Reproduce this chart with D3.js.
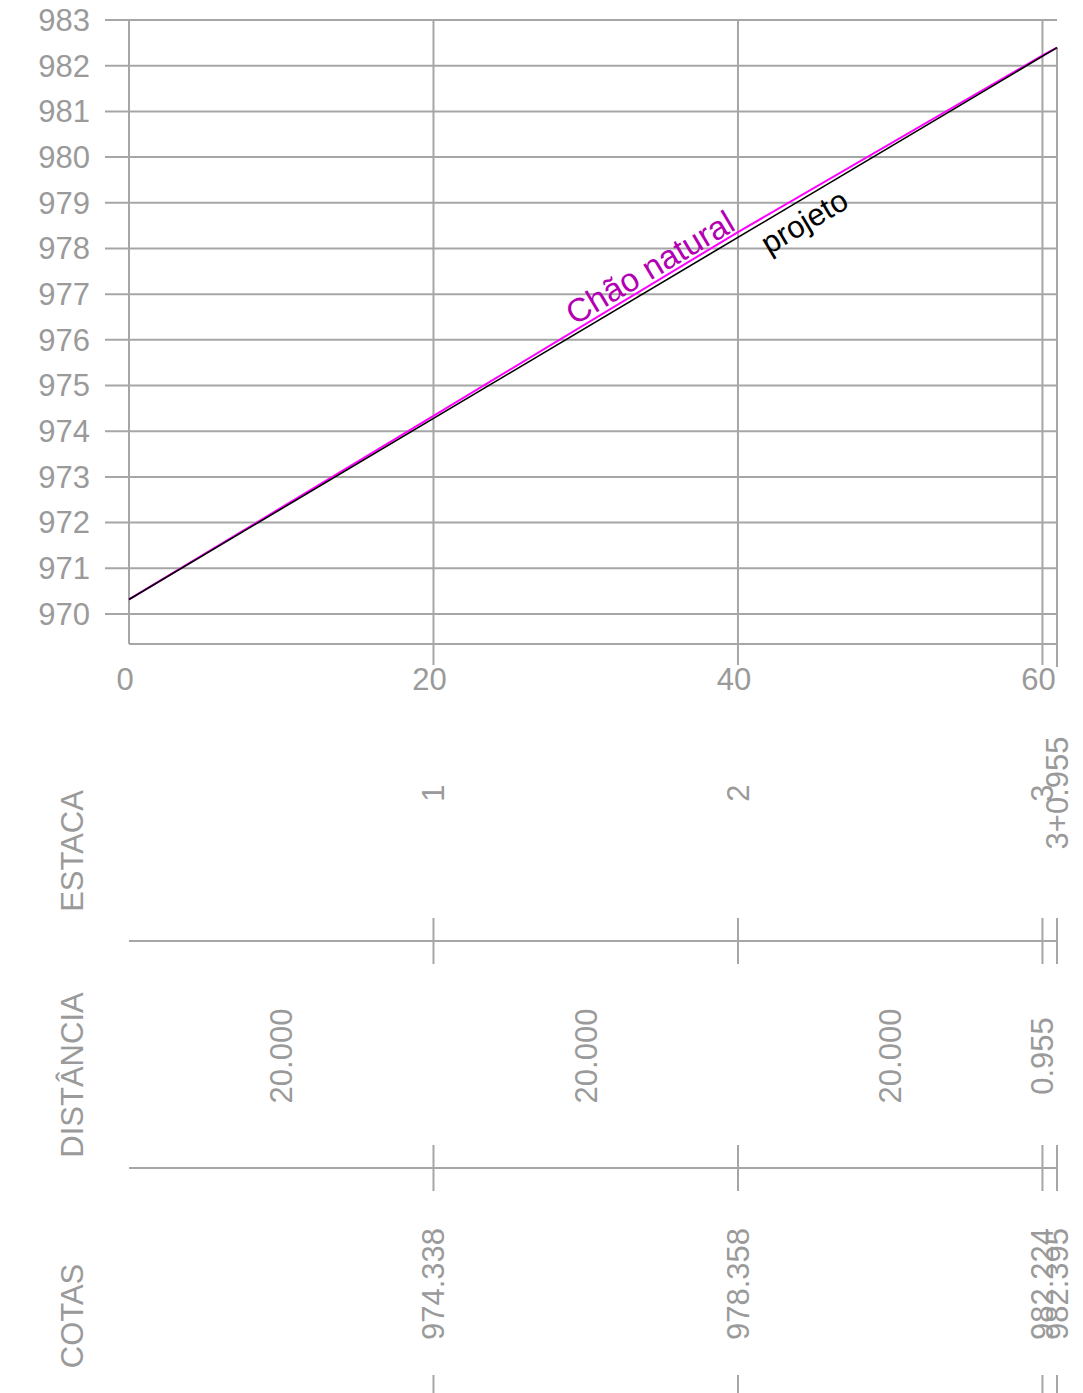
<!DOCTYPE html>
<html>
<head>
<meta charset="utf-8">
<script src="https://cdn.jsdelivr.net/npm/d3@7"></script>
<style>
  html, body { margin: 0; padding: 0; background: #fff; }
  svg { display: block; font-family: "Liberation Sans", Arial, sans-serif; }
</style>
</head>
<body>
<div id="profile"></div>
<script>
// stations along the alignment (m)
const stations = [0, 20, 40, 60, 60.955];
// ground elevation (Chão natural) at each station
const terrain = [970.318, 974.338, 978.358, 982.224, 982.395];
// design grade (projeto), start and end
const gradeStations = [0, 60.955];
const grade = [970.318, 982.395];
const yTicks = d3.range(970, 984);
const xTicks = [0, 20, 40, 60];
const estacaLabels = ["1", "2", "3", "3+0.955"];
const distanceLabels = ["20.000", "20.000", "20.000", "0.955"];
const cotaLabels = ["974.338", "978.358", "982.224", "982.395"];

const W = 1083, H = 1393;
const plotLeft = 129, plotRight = 1057, plotTop = 20, plotBottom = 644;
const gray = "#9a9a9a";
const lineGray = "#a6a6a6";
const fs = "31px";

const svg = d3.select("#profile").append("svg")
    .attr("width", W)
    .attr("height", H);

const x = d3.scaleLinear().domain([0, 60.955]).range([plotLeft, plotRight]);
const y = d3.scaleLinear().domain([969.343, 983]).range([plotBottom, plotTop]);

// horizontal grid + y labels
svg.selectAll(".hgrid")
    .data(yTicks)
    .enter()
    .append("line")
    .attr("x1", plotLeft - 24)
    .attr("x2", plotRight)
    .attr("y1", d => y(d))
    .attr("y2", d => y(d))
    .attr("stroke", lineGray)
    .attr("stroke-width", 2);

svg.selectAll(".ylab")
    .data(yTicks)
    .enter()
    .append("text")
    .attr("x", plotLeft - 39)
    .attr("y", d => y(d))
    .attr("dy", "0.35em")
    .attr("text-anchor", "end")
    .attr("fill", gray)
    .style("font-size", fs)
    .text(d => d);

// vertical grid
svg.selectAll(".vgrid")
    .data(xTicks.slice(1))
    .enter()
    .append("line")
    .attr("x1", d => x(d))
    .attr("x2", d => x(d))
    .attr("y1", plotTop)
    .attr("y2", plotBottom + 21)
    .attr("stroke", lineGray)
    .attr("stroke-width", 2);

// left axis and bottom frame
svg.append("line")
    .attr("x1", plotLeft).attr("x2", plotLeft)
    .attr("y1", plotTop).attr("y2", plotBottom)
    .attr("stroke", lineGray).attr("stroke-width", 2);
svg.append("line")
    .attr("x1", plotLeft).attr("x2", plotRight)
    .attr("y1", plotBottom).attr("y2", plotBottom)
    .attr("stroke", lineGray).attr("stroke-width", 2);

// end station vertical
svg.append("line")
    .attr("x1", x(60.955)).attr("x2", x(60.955))
    .attr("y1", y(terrain[terrain.length - 1])).attr("y2", plotBottom + 23)
    .attr("stroke", lineGray).attr("stroke-width", 2);

svg.selectAll(".xlab")
    .data(xTicks)
    .enter()
    .append("text")
    .attr("x", d => x(d) - 4)
    .attr("y", plotBottom + 35)
    .attr("dy", "0.35em")
    .attr("text-anchor", "middle")
    .attr("fill", gray)
    .style("font-size", fs)
    .text(d => d);

// profile lines
const profileLine = d3.line().x(d => x(d[0])).y(d => y(d[1]));
svg.append("path")
    .attr("d", profileLine(d3.zip(stations, terrain)))
    .attr("fill", "none")
    .attr("stroke", "#ff00ff")
    .attr("stroke-width", 2);
svg.append("path")
    .attr("d", profileLine(d3.zip(gradeStations, grade)))
    .attr("fill", "none")
    .attr("stroke", "#000")
    .attr("stroke-width", 1.6);

// inline labels along the lines
const angle = Math.atan2(y(grade[1]) - y(grade[0]), x(gradeStations[1]) - x(gradeStations[0])) * 180 / Math.PI;
const gradeAt = s => grade[0] + (grade[1] - grade[0]) * s / gradeStations[1];

svg.append("text")
    .attr("transform", `translate(${x(40) - 1},${y(terrain[2]) - 3}) rotate(${angle})`)
    .attr("text-anchor", "end")
    .attr("fill", "#b300b3")
    .style("font-size", "33px")
    .text("Chão natural");

svg.append("text")
    .attr("transform", `translate(${x(41.0)},${y(gradeAt(41.0))}) rotate(${angle})`)
    .attr("dy", "1.0em")
    .attr("text-anchor", "start")
    .attr("fill", "#000")
    .style("font-size", fs)
    .text("projeto");

// guitar (table) below the profile
const rows = [
    { name: "ESTACA", labelY: 851, valueY: 793, lineY: 941 },
    { name: "DISTÂNCIA", labelY: 1075, valueY: 1056, lineY: 1168 },
    { name: "COTAS", labelY: 1316, valueY: 1284, lineY: null }
];

svg.selectAll(".rowname")
    .data(rows)
    .enter()
    .append("text")
    .attr("transform", d => `translate(72,${d.labelY}) rotate(-90)`)
    .attr("dy", "0.35em")
    .attr("text-anchor", "middle")
    .attr("fill", gray)
    .style("font-size", fs)
    .text(d => d.name);

rows.filter(r => r.lineY !== null).forEach(r => {
    svg.append("line")
        .attr("x1", plotLeft).attr("x2", plotRight)
        .attr("y1", r.lineY).attr("y2", r.lineY)
        .attr("stroke", lineGray).attr("stroke-width", 2);
    svg.selectAll(null)
        .data(stations.slice(1))
        .enter()
        .append("line")
        .attr("x1", d => x(d)).attr("x2", d => x(d))
        .attr("y1", r.lineY - 23).attr("y2", r.lineY + 23)
        .attr("stroke", lineGray).attr("stroke-width", 2);
});

// bottom ticks for COTAS
svg.selectAll(".cotaTick")
    .data(stations.slice(1))
    .enter()
    .append("line")
    .attr("x1", d => x(d)).attr("x2", d => x(d))
    .attr("y1", 1375).attr("y2", H)
    .attr("stroke", lineGray).attr("stroke-width", 2);

const rotLabel = (data, posFn, rowY) => svg.selectAll(null)
    .data(data)
    .enter()
    .append("text")
    .attr("transform", (d, i) => `translate(${posFn(i)},${rowY}) rotate(-90)`)
    .attr("dy", "0.35em")
    .attr("text-anchor", "middle")
    .attr("fill", gray)
    .style("font-size", fs)
    .text(d => d);

rotLabel(estacaLabels, i => x(stations[i + 1]), rows[0].valueY);
rotLabel(distanceLabels, i => Math.min(x((stations[i] + stations[i + 1]) / 2), x(60)), rows[1].valueY);
rotLabel(cotaLabels, i => x(stations[i + 1]), rows[2].valueY);
</script>
</body>
</html>
